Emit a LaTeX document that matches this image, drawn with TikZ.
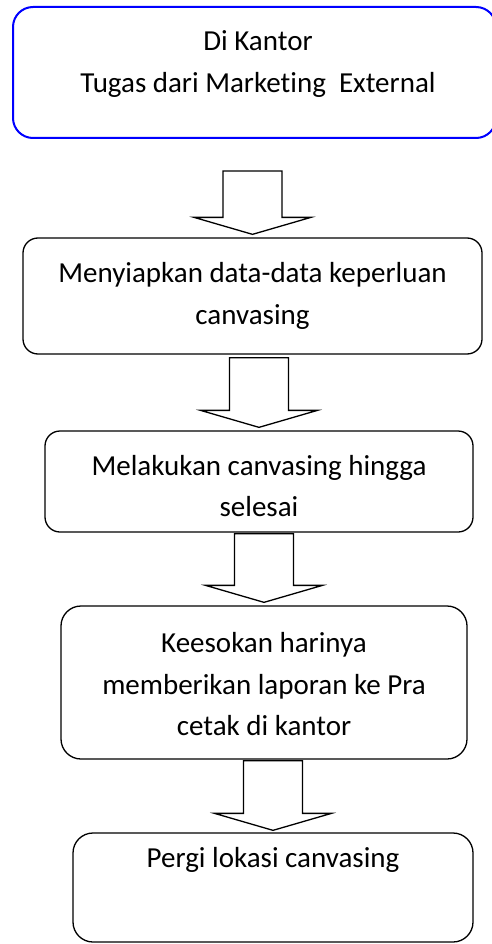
\documentclass[tikz,border=0pt]{standalone}
\usepackage{fontspec}
\setmainfont[Ligatures=NoCommon]{Carlito}
\usepackage{tikz}
\usetikzlibrary{positioning, calc}

\begin{document}
\begin{tikzpicture}[
    x=1pt, y=-1pt,
    stepbox/.style={rectangle, draw, line width=1.3pt, rounded corners=15pt, inner sep=0pt},
    startbox/.style={stepbox, draw=blue, line width=2pt, rounded corners=20pt},
    txt/.style={align=center, inner sep=0pt, font=\fontsize{29}{41.5}\selectfont},
    blockarr/.style={draw, line width=1.3pt, line join=miter}
]
\useasboundingbox (0,0) rectangle (491,944);

% Start (office)
\node[startbox, minimum width=483pt, minimum height=131pt] (b1) at (254.5,72.5) {};
\node[txt] (t1) at ([xshift=3.5pt, yshift=8.5pt]b1.center) {Di Kantor\\Tugas dari Marketing\ \ External};

% Steps
\node[stepbox, minimum width=459pt, minimum height=116pt] (b2) at (252.5,296) {};
\node[txt] (t2) at (b2.center) {Menyiapkan data-data keperluan\\canvasing};

\node[stepbox, minimum width=428pt, minimum height=101pt] (b3) at (259,481.5) {};
\node[txt] (t3) at ([yshift=-4.5pt]b3.center) {Melakukan canvasing hingga\\selesai};

\node[stepbox, rounded corners=20pt, minimum width=406pt, minimum height=153pt] (b4) at (264,682.5) {};
\node[txt] (t4) at ([yshift=-2pt]b4.center) {Keesokan harinya\\memberikan laporan ke Pra\\cetak di kantor};

\node[stepbox, rounded corners=20pt, minimum width=400pt, minimum height=109pt] (b5) at (273,887.5) {};
\node[txt] (t5) at ([yshift=27.5pt]b5.center) {Pergi lokasi canvasing};

% Block arrows
\draw[blockarr] ($(b2.north |- b1.south)+(-29.5,32)$) |- ($(b2.north)+(-58.5,-20)$) -- ($(b2.north)+(0,-3)$) -- ($(b2.north)+(58.5,-20)$) -| ($(b2.north |- b1.south)+(29.5,32)$) -- cycle;
\draw[blockarr] ($(b3.north |- b2.south)+(-29.5,3)$) |- ($(b3.north)+(-58.5,-20)$) -- ($(b3.north)+(0,-3)$) -- ($(b3.north)+(58.5,-20)$) -| ($(b3.north |- b2.south)+(29.5,3)$) -- cycle;
\draw[blockarr] ($(b4.north |- b3.south)+(-29.5,1)$) |- ($(b4.north)+(-58.5,-20)$) -- ($(b4.north)+(0,-3)$) -- ($(b4.north)+(58.5,-20)$) -| ($(b4.north |- b3.south)+(29.5,1)$) -- cycle;
\draw[blockarr] ($(b5.north |- b4.south)+(-29.5,1)$) |- ($(b5.north)+(-58.5,-19)$) -- ($(b5.north)+(0,-2)$) -- ($(b5.north)+(58.5,-19)$) -| ($(b5.north |- b4.south)+(29.5,1)$) -- cycle;

\end{tikzpicture}
\end{document}
